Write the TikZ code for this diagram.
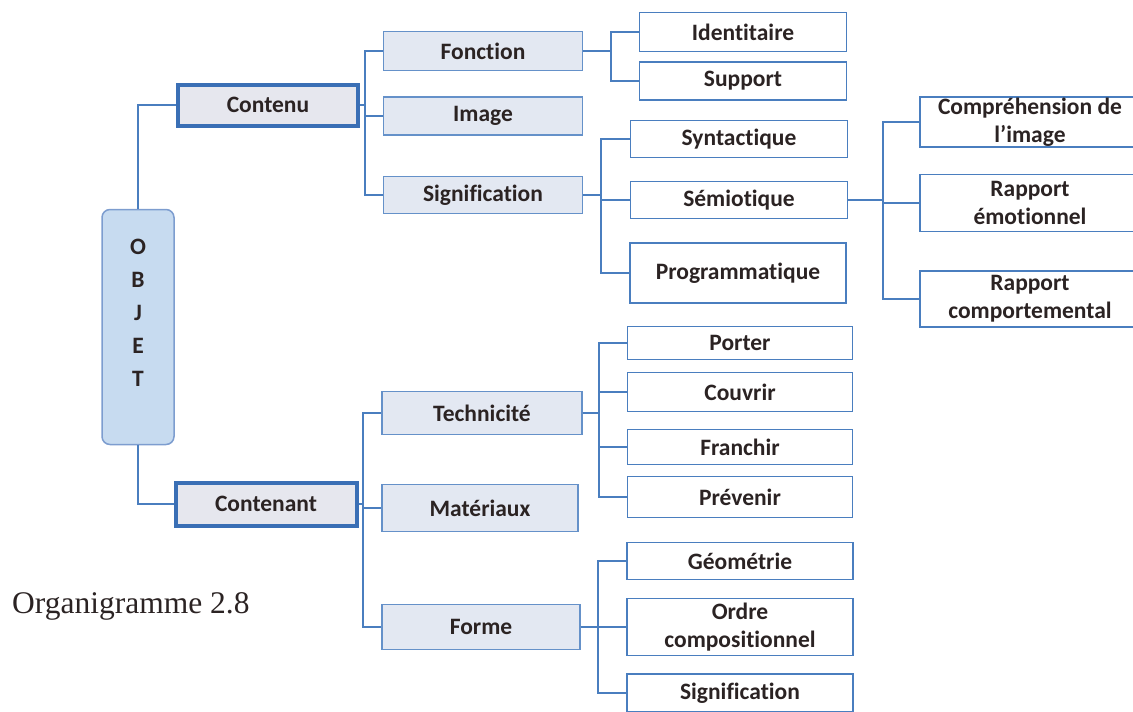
\documentclass[tikz,border=0pt]{standalone}
\usepackage{fontspec}
\setmainfont{Carlito}[Ligatures=NoCommon]
\newfontfamily\capfont{Liberation Serif}
\definecolor{linkblue}{HTML}{4A7EBF}
\definecolor{mainblue}{HTML}{3A6FB5}
\definecolor{midfill}{HTML}{E3E8F2}
\definecolor{mainfill}{HTML}{E6E7EE}
\definecolor{rootfill}{HTML}{C7DBF0}
\definecolor{rootline}{HTML}{7D9DCF}
\definecolor{ink}{HTML}{2B2323}
\begin{document}
\begin{tikzpicture}[x=1pt,y=-1pt,
    every node/.style={font=\fontsize{23.5}{28}\selectfont\bfseries, text=ink, inner sep=0pt},
    leaf/.style={draw=linkblue, line width=1.8pt, fill=white, align=center},
    mid/.style={draw=linkblue!85, line width=1.5pt, fill=midfill},
    main/.style={draw=mainblue, line width=4pt, fill=mainfill},
    link/.style={draw=linkblue, line width=2pt}]
\useasboundingbox (0,0) rectangle (1133,712);

% root and first level
\node[draw=rootline, line width=1.5pt, fill=rootfill, rounded corners=8pt,
      minimum width=72, minimum height=235] (objet) at (138,327) {};
\node[align=center, font=\fontsize{23.5}{33}\selectfont\bfseries] (objetlbl) at (138,313) {O\\B\\J\\E\\T};
\node[main, minimum width=180, minimum height=41] (contenu) at (268,105) {Contenu};
\node[main, minimum width=181, minimum height=43] (contenant) at (266,504) {Contenant};

% Contenu branch
\node[mid, minimum width=199, minimum height=39] (fonction) at (483,51) {Fonction};
\node[mid, minimum width=199, minimum height=38] (image) at (483,116) {Image};
\node[mid, minimum width=199, minimum height=37] (signif) at (483,195) {Signification};

\node[leaf, minimum width=207, minimum height=39] (identitaire) at (743,32) {Identitaire};
\node[leaf, minimum width=207, minimum height=38] (support) at (743,81) {Support};

\node[leaf, minimum width=217, minimum height=37] (syntactique) at (739,139) {Syntactique};
\node[leaf, minimum width=217, minimum height=37] (semiotique) at (739,200) {Sémiotique};
\node[leaf, minimum width=216, minimum height=60] (programmatique) at (738,273) {Programmatique};

\node[leaf, minimum width=220, minimum height=50] (comprehension) at (1030,122) {Compréhension de\\l’image};
\node[leaf, minimum width=220, minimum height=57] (emotionnel) at (1030,203) {Rapport\\émotionnel};
\node[leaf, minimum width=220, minimum height=56] (comportemental) at (1030,299) {Rapport\\comportemental};

% Contenant branch
\node[mid, minimum width=200, minimum height=43] (technicite) at (482,413) {Technicité};
\node[mid, minimum width=196, minimum height=47] (materiaux) at (480,508) {Matériaux};
\node[mid, minimum width=198, minimum height=45] (forme) at (481,627) {Forme};

\node[leaf, minimum width=225, minimum height=33] (porter) at (740,343) {Porter};
\node[leaf, minimum width=225, minimum height=39] (couvrir) at (740,392) {Couvrir};
\node[leaf, minimum width=225, minimum height=35] (franchir) at (740,447) {Franchir};
\node[leaf, minimum width=225, minimum height=41] (prevenir) at (740,497) {Prévenir};

\node[leaf, minimum width=226, minimum height=37] (geometrie) at (740,561) {Géométrie};
\node[leaf, minimum width=226, minimum height=57] (ordre) at (740,627) {Ordre\\compositionnel};
\node[leaf, minimum width=226, minimum height=38] (signifb) at (740,693) {Signification};

\node[font=\fontsize{31.5}{36}\selectfont\capfont, anchor=base west] (caption) at (12,613) {Organigramme 2.8};

% bus lines
\coordinate (b1) at (365,0);
\coordinate (b2) at (611,0);
\coordinate (b3) at (601,0);
\coordinate (b4) at (883,0);
\coordinate (b5) at (363,0);
\coordinate (b6) at (599,0);
\coordinate (b7) at (598,0);

\draw[link] (objet.north) |- (contenu.west);
\draw[link] (objet.south) |- (contenant.west);
\foreach \c in {fonction,image,signif}
  \draw[link] (contenu.east) -- (contenu.east -| b1) |- (\c.west);
\foreach \c in {identitaire,support}
  \draw[link] (fonction.east) -- (fonction.east -| b2) |- (\c.west);
\foreach \c in {syntactique,semiotique,programmatique}
  \draw[link] (signif.east) -- (signif.east -| b3) |- (\c.west);
\foreach \c in {comprehension,emotionnel,comportemental}
  \draw[link] (semiotique.east) -- (semiotique.east -| b4) |- (\c.west);
\foreach \c in {technicite,materiaux,forme}
  \draw[link] (contenant.east) -- (contenant.east -| b5) |- (\c.west);
\foreach \c in {porter,couvrir,franchir,prevenir}
  \draw[link] (technicite.east) -- (technicite.east -| b6) |- (\c.west);
\foreach \c in {geometrie,ordre,signifb}
  \draw[link] (forme.east) -- (forme.east -| b7) |- (\c.west);
\end{tikzpicture}
\end{document}
